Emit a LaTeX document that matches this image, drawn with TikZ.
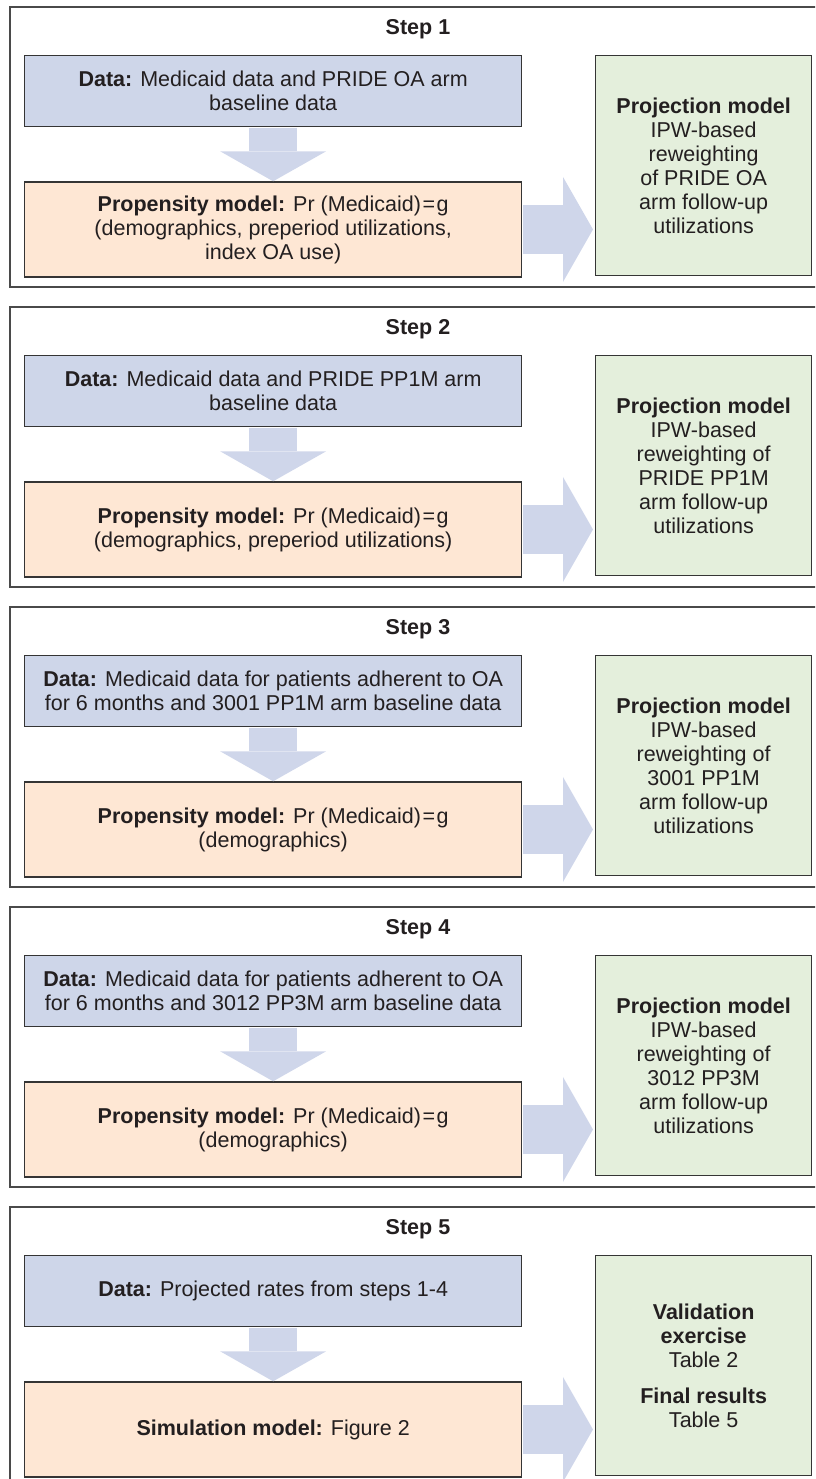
\documentclass[tikz,border=0pt]{standalone}
\usepackage{fontspec}
\setmainfont{Liberation Sans}
\usetikzlibrary{arrows.meta,positioning}

\definecolor{datablue}{HTML}{CED6E9}
\definecolor{propbeige}{HTML}{FEE7D4}
\definecolor{projgreen}{HTML}{E4EFDC}
\definecolor{flowblue}{HTML}{CFD6EA}
\definecolor{boxline}{HTML}{353535}
\definecolor{frameline}{HTML}{4A4A4A}
\definecolor{txt}{HTML}{231F20}

\tikzset{
  box/.style={draw=boxline, line width=1.3pt, inner sep=0pt, align=center, text=txt},
  databox/.style={box, fill=datablue, minimum width=497pt, minimum height=71pt},
  propbox/.style={box, fill=propbeige, minimum width=497pt, minimum height=95pt},
  projbox/.style={box, fill=projgreen, minimum width=216pt, minimum height=220pt},
  steptitle/.style={font=\fontsize{21.5}{24}\selectfont\bfseries, text=txt},
  downflow/.style={flowblue, line width=48pt, shorten <=0.7pt,
    -{Triangle[width=106pt, length=30pt, line width=0pt]}},
  sideflow/.style={flowblue, line width=49pt, shorten <=0.7pt, shorten >=2pt,
    -{Triangle[width=105pt, length=30pt, line width=0pt]}},
}
\newcommand{\eqg}{\kern1.5pt=\kern1.5pt g}

\begin{document}
\begin{tikzpicture}[x=1pt, y=-1pt, font=\fontsize{21.5}{24}\selectfont]
  \useasboundingbox (0,0) rectangle (815,1479);
  \clip (0,0) rectangle (815,1479);

  % --- panel frames (open to the right, they run off the page) and titles ---
  \foreach \s in {1,...,5}{
    \pgfmathsetmacro{\ybase}{7+(\s-1)*300}
    \draw[frameline, line width=1.6pt] (816,\ybase) -- (10,\ybase) -- (10,\ybase+280) -- (816,\ybase+280);
    \node[steptitle] (t\s) at (418,\ybase+22) {Step \s};
  }

  % --- step 1 ---
  \node[databox, anchor=north west] (d1) at (24,55)
    {\textbf{Data:} Medicaid data and PRIDE OA arm\\baseline data};
  \node[propbox, below=54pt of d1] (p1)
    {\textbf{Propensity model:} Pr (Medicaid)\eqg\\(demographics, preperiod utilizations,\\index OA use)};
  \node[projbox, anchor=north west] (r1) at (595,55)
    {\textbf{Projection model}\\IPW-based\\reweighting\\of PRIDE OA\\arm follow-up\\utilizations};

  % --- step 2 ---
  \node[databox, anchor=north west] (d2) at (24,355)
    {\textbf{Data:} Medicaid data and PRIDE PP1M arm\\baseline data};
  \node[propbox, below=54pt of d2] (p2)
    {\textbf{Propensity model:} Pr (Medicaid)\eqg\\(demographics, preperiod utilizations)};
  \node[projbox, anchor=north west] (r2) at (595,355)
    {\textbf{Projection model}\\IPW-based\\reweighting of\\PRIDE PP1M\\arm follow-up\\utilizations};

  % --- step 3 ---
  \node[databox, anchor=north west] (d3) at (24,655)
    {\textbf{Data:} Medicaid data for patients adherent to OA\\for 6 months and 3001 PP1M arm baseline data};
  \node[propbox, below=54pt of d3] (p3)
    {\textbf{Propensity model:} Pr (Medicaid)\eqg\\(demographics)};
  \node[projbox, anchor=north west] (r3) at (595,655)
    {\textbf{Projection model}\\IPW-based\\reweighting of\\3001 PP1M\\arm follow-up\\utilizations};

  % --- step 4 ---
  \node[databox, anchor=north west] (d4) at (24,955)
    {\textbf{Data:} Medicaid data for patients adherent to OA\\for 6 months and 3012 PP3M arm baseline data};
  \node[propbox, below=54pt of d4] (p4)
    {\textbf{Propensity model:} Pr (Medicaid)\eqg\\(demographics)};
  \node[projbox, anchor=north west] (r4) at (595,955)
    {\textbf{Projection model}\\IPW-based\\reweighting of\\3012 PP3M\\arm follow-up\\utilizations};

  % --- step 5 ---
  \node[databox, anchor=north west] (d5) at (24,1255)
    {\textbf{Data:} Projected rates from steps 1-4};
  \node[propbox, below=54pt of d5] (p5)
    {\textbf{Simulation model:} Figure 2};
  \node[projbox, anchor=north west] (r5) at (595,1255)
    {\textbf{Validation}\\\textbf{exercise}\\Table 2\\[12pt]\textbf{Final results}\\Table 5};

  % --- block arrows: data -> model -> projection ---
  \foreach \s in {1,...,5}{
    \draw[downflow] (d\s.south) -- (p\s.north);
    \draw[sideflow] (p\s.east) -- (p\s.east -| r\s.west);
  }
\end{tikzpicture}
\end{document}
